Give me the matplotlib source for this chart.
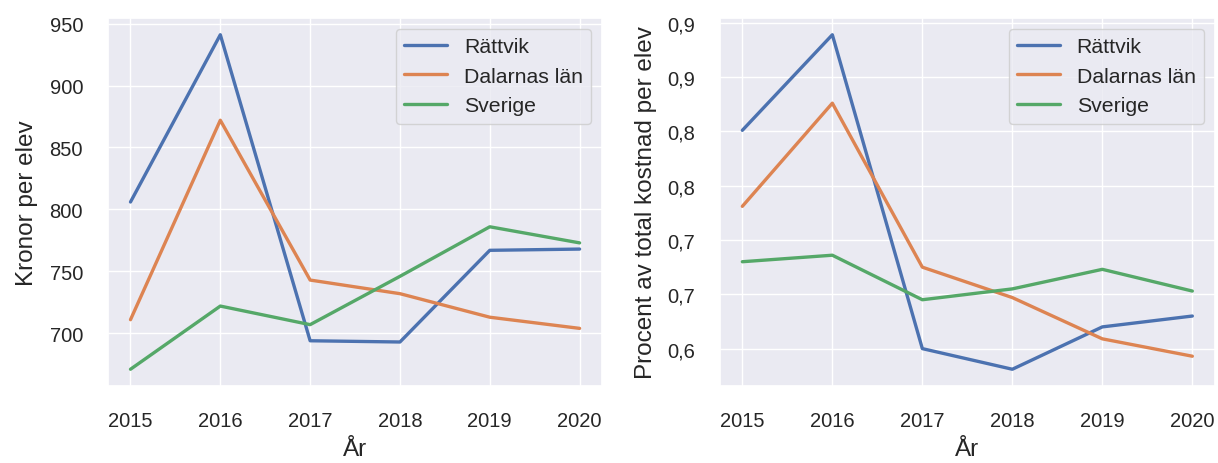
import matplotlib
matplotlib.use("Agg")
import matplotlib.pyplot as plt
import seaborn as sns
from matplotlib.ticker import FuncFormatter, MultipleLocator

years = [2015, 2016, 2017, 2018, 2019, 2020]
series = ["Rättvik", "Dalarnas län", "Sverige"]

# kronor per elev
kr_rattvik = [806, 941, 694, 693, 767, 768]
kr_dalarna = [711, 872, 743, 732, 713, 704]
kr_sverige = [671, 722, 707, 746, 786, 773]

# procent av total kostnad per elev
pct_rattvik = [0.801, 0.889, 0.600, 0.581, 0.620, 0.630]
pct_dalarna = [0.731, 0.826, 0.675, 0.647, 0.609, 0.593]
pct_sverige = [0.680, 0.686, 0.645, 0.655, 0.673, 0.653]

sns.set_theme(style="darkgrid")
plt.rcParams["font.family"] = ["Liberation Sans", "DejaVu Sans"]

fig = plt.figure(figsize=(12.18, 4.64), dpi=100)
a = fig.add_axes([0.0887, 0.166, 0.4056, 0.793])
b = fig.add_axes([0.591, 0.166, 0.4064, 0.793])

for vals, name in zip([kr_rattvik, kr_dalarna, kr_sverige], series):
    a.plot(years, vals, '-', lw=2.4, label=name)
for vals, name in zip([pct_rattvik, pct_dalarna, pct_sverige], series):
    b.plot(years, vals, '-', lw=2.4, label=name)

a.set_ylabel("Kronor per elev", fontsize=17.5, labelpad=8)
b.set_ylabel("Procent av total kostnad per elev", fontsize=17.5, labelpad=7)
a.set_xlabel("År", fontsize=17.5, labelpad=6)
b.set_xlabel("År", fontsize=17.5, labelpad=6)

b.yaxis.set_major_locator(MultipleLocator(0.05))
b.yaxis.set_major_formatter(FuncFormatter(lambda v, p: "{:.1f}".format(v).replace(".", ",")))

for ax in (a, b):
    ax.set_xticks(years)
    ax.tick_params(labelsize=14.5, pad=12)
    ax.legend(loc="upper right", fontsize=15.3)

fig.savefig("out.png", dpi=100)
